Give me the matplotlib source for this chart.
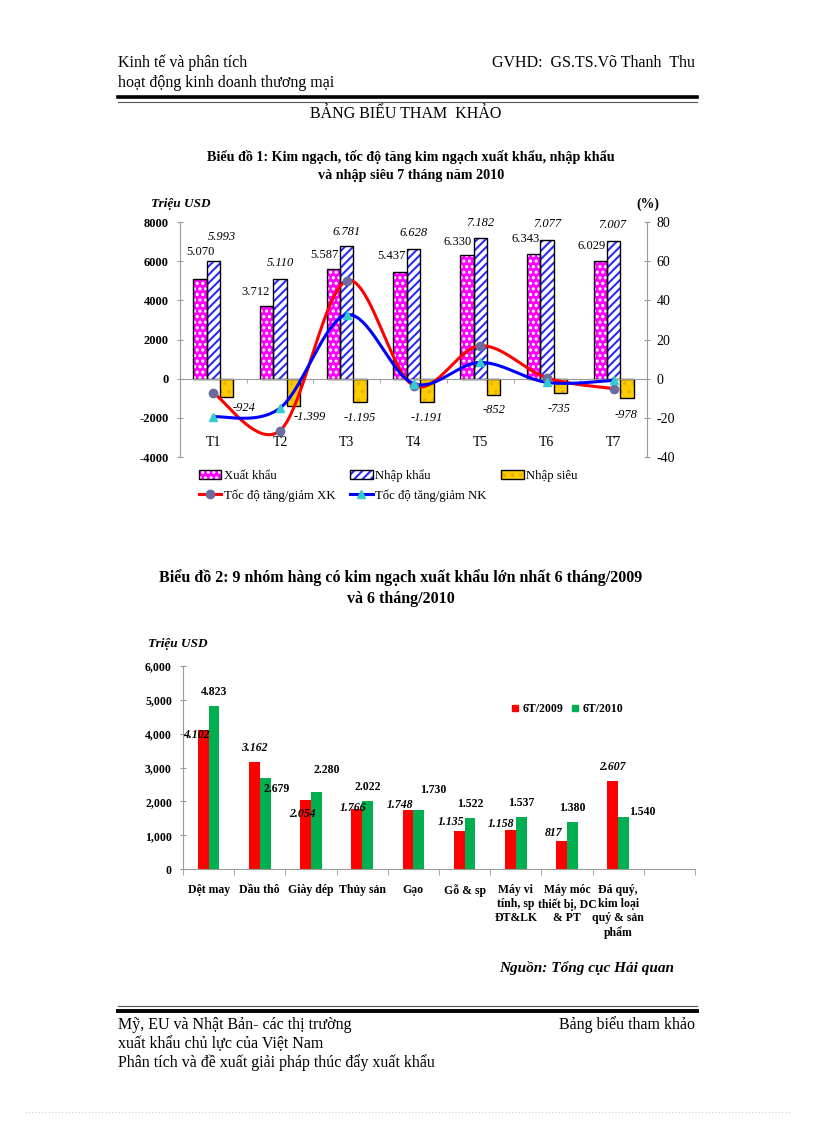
import numpy as np
import matplotlib
matplotlib.use('Agg')
import matplotlib.pyplot as plt
from matplotlib.lines import Line2D

plt.rcParams['font.family'] = ['Liberation Serif', 'DejaVu Serif']
plt.rcParams['axes.unicode_minus'] = False
plt.rcParams['hatch.linewidth'] = 1.5

# ---- Biểu đồ 1 data ----
months = ['T1', 'T2', 'T3', 'T4', 'T5', 'T6', 'T7']
xuat_khau = [5070, 3712, 5587, 5437, 6330, 6343, 6029]
nhap_khau = [5993, 5110, 6781, 6628, 7182, 7077, 7007]
nhap_sieu = [-924, -1399, -1195, -1191, -852, -735, -978]
tang_xk = [-7.3, -26.5, 50.0, -3.5, 16.8, 0.4, -5.1]   # %
tang_nk = [-19.5, -15.0, 32.6, -2.5, 8.3, -1.9, -0.9]  # %

# ---- Biểu đồ 2 data ----
nhom_hang = ['Dệt may', 'Dầu thô', 'Giày dép', 'Thủy sản', 'Gạo', 'Gỗ & sp',
             'Máy vi\ntính, sp\nĐT&LK', 'Máy móc\nthiết bị, DC\n& PT',
             'Đá quý,\nkim loại\nquý & sản\nphẩm']
xk_6t_2009 = [4102, 3162, 2054, 1766, 1748, 1135, 1158, 817, 2607]
xk_6t_2010 = [4823, 2679, 2280, 2022, 1730, 1522, 1537, 1380, 1540]

# label nudges (pixels) copied from the page layout
off_xk = [(0, 27), (-11, 14), (-9, 14), (-9, 16), (-9, 13), (-8, 15), (-9, 15)]
off_nk = [(9, 24), (0, 16), (0, 14), (0, 16), (0, 15), (0, 16), (-1, 16)]
off_ns = [(17, -11), (16, -11), (0, -16), (0, -16), (0, -15), (-1, -16), (-1, -17)]
off_09 = [(-7, -5), (0, 14), (-3, -14), (-4, 1), (-8, 5), (-8, 9), (-9, 6), (-8, 8), (0, 14)]
off_10 = [(0, 14), (11, -11), (10, 22), (0, 14), (14, 20), (0, 14), (0, 14), (0, 14), (19, 5)]

W, H = 816, 1123
GREY = '#9a9a9a'


def fx(px):
    return px / W


def fy(py):
    return 1 - py / H


def box(left, top, right, bottom):
    return [fx(left), fy(bottom), (right - left) / W, (bottom - top) / H]


def fmt(v):
    return f"{v:,}".replace(',', '.')


def smooth(xs, ys, n=40):
    # Excel-like smoothed line (Catmull-Rom as cubic Bezier)
    x = np.asarray(xs, float)
    y = np.asarray(ys, float)
    px = np.concatenate([[x[0]], x, [x[-1]]])
    py = np.concatenate([[y[0]], y, [y[-1]]])
    t = np.linspace(0, 1, n)[:, None]
    out = []
    for i in range(len(x) - 1):
        p0 = np.array([px[i], py[i]])
        p1 = np.array([px[i + 1], py[i + 1]])
        p2 = np.array([px[i + 2], py[i + 2]])
        p3 = np.array([px[i + 3], py[i + 3]])
        c1 = p1 + (p2 - p0) / 6
        c2 = p2 - (p3 - p1) / 6
        seg = ((1 - t) ** 3) * p1 + 3 * ((1 - t) ** 2) * t * c1 + 3 * (1 - t) * t ** 2 * c2 + t ** 3 * p2
        out.append(seg)
    out = np.vstack(out)
    return out[:, 0], out[:, 1]


fig = plt.figure(figsize=(8.16, 11.23), dpi=100)

# ---- page header / footer ----
fig.text(fx(118), fy(63), 'Kinh tế và phân tích', fontsize=11.5, va='center')
fig.text(fx(118), fy(83), 'hoạt động kinh doanh thương mại', fontsize=11.5, va='center')
fig.text(fx(695), fy(63), 'GVHD:  GS.TS.Võ Thanh  Thu', fontsize=11.5, va='center', ha='right')
fig.add_artist(Line2D([fx(118), fx(697)], [fy(97), fy(97)], color='black', lw=2.6))
fig.add_artist(Line2D([fx(118), fx(697)], [fy(101.5), fy(101.5)], color='#555555', lw=0.8))
fig.text(fx(406), fy(114), 'BẢNG BIỂU THAM  KHẢO', fontsize=11.5, va='center', ha='center')

fig.add_artist(Line2D([fx(118), fx(697)], [fy(1006), fy(1006)], color='#555555', lw=0.8))
fig.add_artist(Line2D([fx(118), fx(697)], [fy(1011), fy(1011)], color='black', lw=2.8))
fig.text(fx(118), fy(1025), 'Mỹ, EU và Nhật Bản- các thị trường', fontsize=11.5, va='center')
fig.text(fx(118), fy(1044), 'xuất khẩu chủ lực của Việt Nam', fontsize=11.5, va='center')
fig.text(fx(118), fy(1063), 'Phân tích và đề xuất giải pháp thúc đẩy xuất khẩu', fontsize=11.5, va='center')
fig.text(fx(695), fy(1025), 'Bảng biểu tham khảo', fontsize=11.5, va='center', ha='right')
fig.add_artist(Line2D([fx(25), fx(790)], [fy(1112), fy(1112)], color='#cccccc', lw=0.8, ls=(0, (1, 2))))

# ---- Biểu đồ 1 ----
fig.text(fx(411), fy(157), 'Biểu đồ 1: Kim ngạch, tốc độ tăng kim ngạch xuất khẩu, nhập khẩu',
         fontsize=10.2, fontweight='bold', ha='center', va='center')
fig.text(fx(411), fy(176), 'và nhập siêu 7 tháng năm 2010',
         fontsize=10.2, fontweight='bold', ha='center', va='center')
fig.text(fx(181), fy(204), 'Triệu USD', fontsize=9.5, fontweight='bold', style='italic',
         ha='center', va='center')
fig.text(fx(648), fy(204), '(%)', fontsize=10, fontweight='bold', ha='center', va='center')

ax = fig.add_axes(box(180, 222, 647, 457))
x = np.arange(len(months))
bw = 0.2

with plt.rc_context({'hatch.color': 'white'}):
    b_xk = ax.bar(x - bw, xuat_khau, bw, color='#ff00ff', hatch='...', linewidth=0)
with plt.rc_context({'hatch.color': '#2b2bff'}):
    b_nk = ax.bar(x, nhap_khau, bw, color='white', hatch='////', linewidth=0)
with plt.rc_context({'hatch.color': '#e6b400'}):
    b_ns = ax.bar(x + bw, nhap_sieu, bw, color='#ffcc00', hatch='..', linewidth=0)
o_xk = ax.bar(x - bw, xuat_khau, bw, fill=False, edgecolor='black', linewidth=1)
o_nk = ax.bar(x, nhap_khau, bw, fill=False, edgecolor='black', linewidth=1)
o_ns = ax.bar(x + bw, nhap_sieu, bw, fill=False, edgecolor='black', linewidth=1)

for i in range(len(months)):
    ax.annotate(fmt(xuat_khau[i]), (x[i] - bw, xuat_khau[i]), xytext=off_xk[i],
                textcoords='offset pixels', ha='center', va='center', fontsize=9)
    ax.annotate(fmt(nhap_khau[i]), (x[i], nhap_khau[i]), xytext=off_nk[i],
                textcoords='offset pixels', ha='center', va='center', fontsize=9, style='italic')
    ax.annotate(fmt(nhap_sieu[i]), (x[i] + bw, nhap_sieu[i]), xytext=off_ns[i],
                textcoords='offset pixels', ha='center', va='center', fontsize=9, style='italic')

ax.set_xlim(-0.5, len(months) - 0.5)
ax.set_ylim(-4000, 8000)
ax.set_yticks(np.arange(-4000, 8001, 2000))
ax.set_yticklabels([str(v) for v in range(-4000, 8001, 2000)], fontweight='bold', fontsize=9)
ax.set_xticks(x)
ax.set_xticklabels(months, fontweight='bold', fontsize=10)
ax.set_xticks(np.arange(len(months) + 1) - 0.5, minor=True)
ax.tick_params(axis='x', which='major', length=0, pad=41)
ax.tick_params(axis='x', which='minor', length=3, direction='out', color=GREY)
ax.tick_params(axis='y', length=4, direction='inout', color=GREY, pad=6)
for s in ['top', 'right']:
    ax.spines[s].set_visible(False)
ax.spines['bottom'].set_position(('data', 0))
ax.spines['bottom'].set_color(GREY)
ax.spines['left'].set_color(GREY)
ax.patch.set_alpha(0)

ax2 = ax.twinx()
ax2.set_ylim(-40, 80)
ax2.set_yticks(np.arange(-40, 81, 20))
ax2.tick_params(axis='y', length=4, direction='inout', color=GREY, labelsize=10, pad=5)
for s in ['top', 'left', 'bottom']:
    ax2.spines[s].set_visible(False)
ax2.spines['right'].set_color(GREY)

sx, sy = smooth(x, tang_xk)
ax2.plot(sx, sy, color='#ff0000', lw=2.2, zorder=3)
ax2.plot(x, tang_xk, 'o', color='#6b6b9e', ms=6, zorder=4)
sx, sy = smooth(x, tang_nk)
ax2.plot(sx, sy, color='#0000ff', lw=2.2, zorder=3)
ax2.plot(x, tang_nk, '^', color='#33cccc', ms=6, zorder=4)

h_xk = Line2D([], [], color='#ff0000', lw=2.2, marker='o', mfc='#6b6b9e', mec='#6b6b9e', ms=6)
h_nk = Line2D([], [], color='#0000ff', lw=2.2, marker='^', mfc='#33cccc', mec='#33cccc', ms=6)
fig.legend([(b_xk, o_xk), h_xk, (b_nk, o_nk), h_nk, (b_ns, o_ns)],
           ['Xuất khẩu', 'Tốc độ tăng/giảm XK', 'Nhập khẩu', 'Tốc độ tăng/giảm NK', 'Nhập siêu'],
           ncol=3, loc='upper left', bbox_to_anchor=(fx(199), fy(469)), frameon=False,
           fontsize=9.2, handlelength=1.75, handletextpad=0.2, columnspacing=1.15,
           borderpad=0, borderaxespad=0, labelspacing=0.6)

# ---- Biểu đồ 2 ----
fig.text(fx(401), fy(578), 'Biểu đồ 2: 9 nhóm hàng có kim ngạch xuất khẩu lớn nhất 6 tháng/2009',
         fontsize=11.5, fontweight='bold', ha='center', va='center')
fig.text(fx(401), fy(599), 'và 6 tháng/2010', fontsize=11.5, fontweight='bold', ha='center', va='center')
fig.text(fx(178), fy(644), 'Triệu USD', fontsize=9.5, fontweight='bold', style='italic',
         ha='center', va='center')

bx = fig.add_axes(box(183, 666, 695, 869))
x2 = np.arange(len(nhom_hang))
w2 = 0.21
bx.bar(x2 - w2 / 2, xk_6t_2009, w2, color='#ff0000', linewidth=0)
bx.bar(x2 + w2 / 2, xk_6t_2010, w2, color='#00b050', linewidth=0)
for i in range(len(nhom_hang)):
    bx.annotate(fmt(xk_6t_2009[i]), (x2[i] - w2 / 2, xk_6t_2009[i]), xytext=off_09[i],
                textcoords='offset pixels', ha='center', va='center', fontsize=8.5,
                fontweight='bold', style='italic')
    bx.annotate(fmt(xk_6t_2010[i]), (x2[i] + w2 / 2, xk_6t_2010[i]), xytext=off_10[i],
                textcoords='offset pixels', ha='center', va='center', fontsize=8.5,
                fontweight='bold')

bx.set_xlim(-0.5, len(nhom_hang) + 0.5)
bx.set_ylim(0, 6000)
bx.set_yticks(np.arange(0, 6001, 1000))
bx.set_yticklabels([f"{v:,}" for v in range(0, 6001, 1000)], fontweight='bold', fontsize=8.5)
bx.set_xticks(x2)
bx.set_xticklabels(nhom_hang, fontweight='bold', fontsize=8.5, linespacing=1.2)
bx.set_xticks(np.arange(len(nhom_hang) + 2) - 0.5, minor=True)
bx.tick_params(axis='x', which='major', length=0, pad=11)
bx.tick_params(axis='x', which='minor', length=4, direction='out', color=GREY)
bx.tick_params(axis='y', length=4, direction='inout', color=GREY, pad=6)
for s in ['top', 'right']:
    bx.spines[s].set_visible(False)
bx.spines['bottom'].set_color(GREY)
bx.spines['left'].set_color(GREY)
bx.patch.set_alpha(0)

h09 = Line2D([], [], ls='none', marker='s', color='#ff0000', ms=4)
h10 = Line2D([], [], ls='none', marker='s', color='#00b050', ms=4)
fig.legend([h09, h10], ['6T/2009', '6T/2010'], ncol=2, loc='center left',
           bbox_to_anchor=(fx(511), fy(709)), frameon=False, prop={'weight': 'bold', 'size': 8.5},
           handlelength=0.6, handletextpad=0.35, columnspacing=0.7, borderpad=0, borderaxespad=0)

fig.text(fx(499), fy(968), 'Nguồn: Tổng cục Hải quan', fontsize=11, fontweight='bold',
         style='italic', va='center')

fig.savefig('out.png', dpi=100)
plt.close(fig)
